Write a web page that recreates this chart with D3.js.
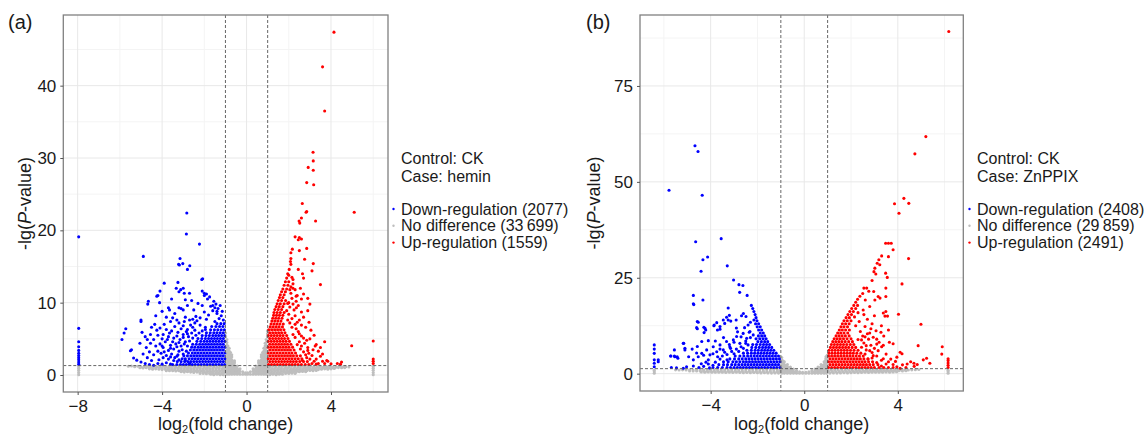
<!DOCTYPE html>
<html>
<head>
<meta charset="utf-8">
<script src="https://cdn.jsdelivr.net/npm/d3@7"></script>
<style>
  body { margin: 0; background: #fff; }
  svg text { font-family: "Liberation Sans", Arial, sans-serif; fill: #1a1a1a; }
</style>
</head>
<body>
<svg id="chart" width="1146" height="436"></svg>
<script>
// points are "log2FC,-lg(P)" pairs

// (a) CK vs hemin
const noA = `
-5.6,1.2 -5.45,1.25 -5.3,1.15 -5.15,1.2 -5.0,1.1 -4.85,1.15 -4.7,1.2 -4.55,1.1 -4.4,1.2 -4.25,1.15 -4.1,1.1 -3.95,1.2 -3.8,1.15
-3.65,1.1 -3.5,1.2 -3.35,1.15 -3.2,1.1 -3.05,1.2 -2.9,1.15 -2.75,1.1 -2.6,1.2 -2.45,1.15 -2.3,1.1 -2.15,1.2 -2.0,1.15 -1.85,1.1
-1.7,1.2 -1.55,1.15 -1.4,1.1 -1.25,1.2 -1.1,1.15
-5.05,1.0 -4.9,0.98 -4.75,1.0 -4.6,1.02 -4.45,1.0 -4.3,0.98 -4.15,1.0 -4.0,0.95 -3.85,0.98 -3.7,0.95 -3.55,0.98 -3.4,0.95
-3.25,0.92 -3.1,0.95 -2.95,0.92 -2.8,0.95 -2.65,0.9 -2.5,0.92 -2.35,0.9 -2.2,0.92 -2.05,0.9 -1.9,0.92 -1.75,0.9 -1.6,0.92
-1.45,0.9 -1.3,0.92 -1.15,0.9 -1.05,0.95
-4.6,0.85 -4.45,0.8 -4.3,0.85 -4.15,0.8 -4.0,0.75 -3.85,0.8 -3.7,0.75 -3.55,0.8 -3.4,0.75 -3.25,0.7 -3.1,0.75 -2.95,0.7 -2.8,0.75
-2.65,0.7 -2.5,0.75 -2.35,0.7 -2.2,0.75 -2.05,0.7 -1.9,0.75 -1.75,0.7 -1.6,0.75 -1.45,0.7 -1.3,0.75 -1.15,0.7 -1.02,0.75
-3.8,0.6 -3.65,0.58 -3.5,0.6 -3.35,0.55 -3.2,0.58 -3.05,0.55 -2.9,0.58 -2.75,0.55 -2.6,0.52 -2.45,0.55 -2.3,0.52 -2.15,0.55
-2.0,0.5 -1.85,0.52 -1.7,0.5 -1.55,0.52 -1.4,0.5 -1.25,0.52 -1.1,0.5
-3.1,0.45 -2.95,0.4 -2.8,0.45 -2.65,0.4 -2.5,0.35 -2.35,0.4 -2.2,0.35 -2.05,0.4 -1.9,0.35 -1.75,0.3 -1.6,0.35 -1.45,0.3 -1.3,0.35
-1.15,0.3 -1.02,0.35 -1.7,0.1 -1.55,0.05 -1.4,0.1 -1.25,0.05 -1.1,0.05
-2.2,0.2 -2.05,0.22 -1.9,0.18 -1.75,0.2 -1.6,0.18 -1.45,0.2 -1.3,0.18 -1.15,0.15
1.1,1.15 1.25,1.2 1.4,1.1 1.55,1.15 1.7,1.2 1.85,1.1 2.0,1.15 2.15,1.2 2.3,1.1 2.45,1.15 2.6,1.2 2.75,1.1 2.9,1.15 3.05,1.2
3.2,1.1 3.35,1.15 3.5,1.2 3.65,1.1 3.8,1.15 3.95,1.2 4.1,1.1 4.25,1.15 4.4,1.2 4.55,1.1 4.7,1.15 4.85,1.1
1.05,0.92 1.2,0.9 1.35,0.92 1.5,0.9 1.65,0.92 1.8,0.9 1.95,0.92 2.1,0.9 2.25,0.92 2.4,0.9 2.55,0.92 2.7,0.95 2.85,0.92
3.0,0.95 3.15,0.98 3.3,0.95 3.45,0.98 3.6,1.0 3.75,0.98 3.9,1.0 4.05,1.02 4.2,1.0 4.35,1.02 4.5,1.0 4.65,1.02
1.02,0.75 1.15,0.7 1.3,0.75 1.45,0.7 1.6,0.75 1.75,0.7 1.9,0.75 2.05,0.7 2.2,0.75 2.35,0.7 2.5,0.75 2.65,0.7 2.8,0.75 2.95,0.8
3.1,0.75 3.25,0.8 3.4,0.75 3.55,0.8 3.7,0.85 3.85,0.8 4.0,0.85 4.15,0.9
1.05,0.52 1.2,0.5 1.35,0.52 1.5,0.5 1.65,0.52 1.8,0.55 1.95,0.52 2.1,0.55 2.25,0.58 2.4,0.55 2.55,0.6 2.7,0.58 2.85,0.6
3.0,0.62 3.15,0.6 3.3,0.62
1.02,0.35 1.15,0.3 1.3,0.35 1.45,0.3 1.6,0.35 1.75,0.4 1.9,0.35 2.05,0.4 2.2,0.45 2.35,0.4 2.5,0.45 2.65,0.5 2.8,0.45
1.1,0.05 1.25,0.1 1.4,0.05 1.55,0.1 1.7,0.1 1.85,0.2 2.0,0.22 2.15,0.25 2.3,0.22 1.15,0.18 1.3,0.2 1.45,0.18 1.6,0.22
-0.05,0.1 -0.05,0.3 -0.18,0.1 -0.18,0.45 -0.31,0.1 -0.31,0.5 -0.31,0.85 -0.44,0.1 -0.44,0.5 -0.44,0.9 -0.44,1.25
-0.57,0.1 -0.57,0.5 -0.57,0.9 -0.57,1.3 -0.57,1.7 -0.57,1.95 -0.7,0.1 -0.7,0.5 -0.7,0.9 -0.7,1.3 -0.7,1.7 -0.7,2.1 -0.7,2.5 -0.7,2.8
-0.82,0.1 -0.82,0.5 -0.82,0.9 -0.82,1.3 -0.82,1.7 -0.82,2.1 -0.82,2.5 -0.82,2.9 -0.82,3.3 -0.82,3.7
-0.93,0.1 -0.93,0.5 -0.93,0.9 -0.93,1.3 -0.93,1.7 -0.93,2.1 -0.93,2.5 -0.93,2.9 -0.93,3.3 -0.93,3.7 -0.93,4.1 -0.93,4.5 -0.93,4.9
-0.99,5.3 -0.99,5.8
-0.88,0.3 -0.88,0.7 -0.88,1.1 -0.88,1.5 -0.88,1.9 -0.88,2.3 -0.88,2.7 -0.88,3.1 -0.88,3.5 -0.88,4.0
-0.76,0.3 -0.76,0.7 -0.76,1.1 -0.76,1.5 -0.76,1.9 -0.76,2.3 -0.76,2.7 -0.76,3.1 -0.63,0.3 -0.63,0.7 -0.63,1.1 -0.63,1.5
-0.63,1.9 -0.5,0.3 -0.5,0.7 -0.5,1.1 -0.37,0.3 -0.37,0.7
0.05,0.1 0.05,0.3 0.18,0.1 0.18,0.45 0.31,0.1 0.31,0.5 0.31,0.85 0.44,0.1 0.44,0.5 0.44,0.9 0.44,1.25
0.57,0.1 0.57,0.5 0.57,0.9 0.57,1.3 0.57,1.7 0.57,1.95 0.7,0.1 0.7,0.5 0.7,0.9 0.7,1.3 0.7,1.7 0.7,2.1 0.7,2.5 0.7,2.8
0.82,0.1 0.82,0.5 0.82,0.9 0.82,1.3 0.82,1.7 0.82,2.1 0.82,2.5 0.82,2.9 0.82,3.3 0.82,3.7
0.93,0.1 0.93,0.5 0.93,0.9 0.93,1.3 0.93,1.7 0.93,2.1 0.93,2.5 0.93,2.9 0.93,3.3 0.93,3.7 0.93,4.1 0.93,4.5 0.93,4.9
0.99,5.3 0.99,5.7 0.99,6.1
0.88,0.3 0.88,0.7 0.88,1.1 0.88,1.5 0.88,1.9 0.88,2.3 0.88,2.7 0.88,3.1 0.88,3.5 0.88,4.0 0.88,4.4
0.76,0.3 0.76,0.7 0.76,1.1 0.76,1.5 0.76,1.9 0.76,2.3 0.76,2.7 0.76,3.1 0.63,0.3 0.63,0.7 0.63,1.1 0.63,1.5
0.63,1.9 0.5,0.3 0.5,0.7 0.5,1.1 0.37,0.3 0.37,0.7
-7.95,0.05 -7.95,0.35 -7.95,0.65 -7.95,0.95 -7.95,1.2 6.0,0.05 6.0,0.35 6.0,0.65 6.0,0.95 6.0,1.2
`;

const downA = `
-7.95,19.1 -7.95,6.45 -7.95,4.6 -7.95,3.9 -7.95,3.4 -7.95,3.0 -7.95,2.7 -7.95,2.4 -7.95,2.1 -7.95,1.8 -7.95,1.5
-2.83,22.4 -2.85,19.5 -2.23,18.1 -4.89,16.4 -3.15,16.1 -3.22,15.3 -3.02,15.4 -3.18,15.2 -2.69,15.1 -2.8,14.6
-2.08,13.3 -2.12,13.2 -3.9,12.7 -3.25,12.8 -3.33,12.0 -3.12,11.8 -3.0,12.0 -3.2,11.5 -4.1,11.6 -2.7,11.3 -2.95,11.3
-2.1,11.6 -2.0,11.3 -1.9,11.2 -4.2,11.0 -4.12,10.0 -4.65,10.2 -4.68,9.8 -3.7,9.3 -3.2,9.3 -3.1,9.2
-2.0,11.0 -1.85,10.5 -1.6,9.6 -1.5,9.3 -1.4,8.8
-4.25,10.9 -3.55,10.5 -2.9,10.4 -4.3,8.2 -4.0,8.8 -3.8,8.0 -3.5,7.9 -3.65,9.0 -3.4,8.5 -3.0,9.0 -2.8,9.6
-5.72,6.4 -5.8,5.8 -5.9,4.9 -5.0,7.4 -5.0,7.6 -4.95,5.9 -4.8,5.3 -4.7,4.9 -5.05,4.4 -5.45,3.5 -5.5,3.35
-4.4,1.35 -4.6,1.45 -4.8,1.6 -5.0,1.8 -5.2,2.05 -5.35,2.35 -4.5,2.0 -4.7,2.4 -4.4,2.8 -4.6,3.2 -4.9,2.9
-4.3,4.0 -4.55,4.4 -4.75,3.8 -4.5,6.6 -4.35,7.0 -4.25,6.2 -4.55,5.6 -4.2,5.5 -4.4,4.9
-3.6,1.5 -3.8,1.7 -4.0,1.5 -4.2,1.6 -3.45,2.0 -3.7,2.2 -3.95,2.4 -4.15,2.1 -3.3,2.6 -3.55,2.9 -3.8,2.7 -4.05,3.0
-3.2,3.3 -3.45,3.6 -3.7,3.4 -3.95,3.8 -4.2,3.3 -3.1,4.0 -3.35,4.3 -3.6,4.1 -3.85,4.6 -2.9,4.6 -3.15,4.9 -3.45,5.1
-3.7,5.3 -4.0,5.0 -2.75,5.3 -3.0,5.6 -3.25,5.9 -3.55,6.1 -2.6,5.8 -2.85,6.0 -3.1,6.4 -3.4,6.7 -3.8,6.3 -4.1,6.5
-2.45,6.2 -2.65,6.9 -3.2,7.2 -3.6,7.4 -3.9,7.0 -2.35,7.5 -2.55,7.7 -2.95,7.4
-2.7,1.6 -2.9,2.0 -3.2,2.1 -3.4,2.4 -3.0,2.9 -3.25,2.8 -2.85,3.3 -3.05,3.5 -2.8,4.0 -2.95,4.3 -2.7,4.7 -2.55,5.1
-2.4,5.5 -2.25,5.8 -2.1,6.1 -1.95,6.3 -3.6,2.5 -3.9,3.2 -3.6,3.7 -3.3,3.9 -3.5,4.6 -3.2,4.5 -3.0,5.2 -3.3,5.4
-2.8,5.7 -3.65,5.8 -3.95,5.6 -4.1,4.3 -4.0,4.0 -3.75,4.9
-1.1,7.6 -1.3,7.8 -1.5,7.4 -1.2,8.2 -1.4,8.5 -1.15,8.8 -1.35,9.2 -1.6,8.9 -1.25,9.6 -1.45,9.8 -1.7,9.5 -1.55,10.2
-1.8,8.3 -2.0,8.7 -1.9,7.7 -2.2,7.9 -2.4,8.1 -2.1,9.6 -2.3,9.9 -2.5,9.0 -2.6,10.3 -1.75,10.8 -2.45,7.2 -2.7,7.6
-2.9,8.0 -2.55,6.6 -2.2,6.9 -1.95,6.6 -2.8,6.3 -3.0,6.8 -3.3,7.6
-1.04,1.45 -1.17,1.45 -1.31,1.45 -1.45,1.45 -1.59,1.45 -1.73,1.45 -1.87,1.45 -2.01,1.45 -2.15,1.45 -2.29,1.45 -2.43,1.45
-2.57,1.45 -2.71,1.45 -2.85,1.45 -2.99,1.45 -3.13,1.45 -3.3,1.45 -3.5,1.45
-1.1,1.85 -1.24,1.85 -1.38,1.85 -1.52,1.85 -1.66,1.85 -1.8,1.85 -1.94,1.85 -2.08,1.85 -2.22,1.85 -2.36,1.85 -2.5,1.85
-2.64,1.85 -2.78,1.85 -2.93,1.85 -3.1,1.85 -3.28,1.85
-1.03,2.25 -1.17,2.25 -1.31,2.25 -1.45,2.25 -1.59,2.25 -1.73,2.25 -1.87,2.25 -2.01,2.25 -2.15,2.25 -2.29,2.25 -2.43,2.25
-2.57,2.25 -2.72,2.25 -2.9,2.25 -3.05,2.25
-1.1,2.65 -1.24,2.65 -1.38,2.65 -1.52,2.65 -1.66,2.65 -1.8,2.65 -1.94,2.65 -2.08,2.65 -2.22,2.65 -2.36,2.65 -2.5,2.65
-2.64,2.65 -2.8,2.65 -2.97,2.65
-1.03,3.05 -1.17,3.05 -1.31,3.05 -1.45,3.05 -1.59,3.05 -1.73,3.05 -1.87,3.05 -2.01,3.05 -2.15,3.05 -2.29,3.05 -2.43,3.05
-2.57,3.05 -2.75,3.05
-1.1,3.45 -1.24,3.45 -1.38,3.45 -1.52,3.45 -1.66,3.45 -1.8,3.45 -1.94,3.45 -2.08,3.45 -2.22,3.45 -2.36,3.45 -2.5,3.45 -2.66,3.45
-1.03,3.85 -1.17,3.85 -1.31,3.85 -1.45,3.85 -1.59,3.85 -1.73,3.85 -1.87,3.85 -2.01,3.85 -2.15,3.85 -2.29,3.85 -2.45,3.85 -2.6,3.85
-1.1,4.25 -1.24,4.25 -1.38,4.25 -1.52,4.25 -1.66,4.25 -1.8,4.25 -1.94,4.25 -2.08,4.25 -2.22,4.25 -2.38,4.25 -2.55,4.25
-1.03,4.65 -1.17,4.65 -1.31,4.65 -1.45,4.65 -1.59,4.65 -1.73,4.65 -1.87,4.65 -2.01,4.65 -2.17,4.65 -2.35,4.65
-1.1,5.05 -1.24,5.05 -1.38,5.05 -1.52,5.05 -1.66,5.05 -1.8,5.05 -1.95,5.05 -2.12,5.05 -2.3,5.05
-1.04,5.45 -1.18,5.45 -1.32,5.45 -1.46,5.45 -1.6,5.45 -1.76,5.45 -1.92,5.45 -2.1,5.45
-1.1,5.85 -1.25,5.85 -1.4,5.85 -1.55,5.85 -1.72,5.85 -1.9,5.85
-1.05,6.25 -1.2,6.25 -1.36,6.25 -1.52,6.25 -1.7,6.25
-1.12,6.7 -1.28,6.7 -1.45,6.7 -1.65,6.7
-1.06,7.1 -1.22,7.1 -1.4,7.1
`;

const upA = `
4.14,47.4 3.6,42.6 3.7,36.5 3.15,30.8 3.16,29.6 2.92,28.7 3.16,28.3 2.85,26.6 3.18,26.3 2.64,23.7 2.85,22.6 2.82,22.5
5.1,22.5 2.6,21.7 2.49,21.3 2.52,21.0 3.27,21.3 2.3,19.1 2.5,19.0 2.6,18.8 2.45,18.7 2.17,17.4 2.5,17.2 2.85,17.5
2.1,16.9 2.1,16.1 2.75,16.0 2.08,15.7 2.1,15.3 3.16,15.4 2.45,14.6 3.1,14.4 2.0,13.8 2.15,13.5 2.2,13.2 2.65,14.0
2.7,13.4 3.5,12.5
2.36,9.3 2.6,8.7 2.9,8.9 2.7,8.0 2.96,7.3 2.5,7.6 2.3,7.0 2.8,6.6 3.05,6.2 2.45,6.0 2.6,5.4 3.0,5.0 3.3,4.2 3.25,4.0
2.5,4.6 2.75,4.4 2.9,3.8 2.95,3.0 3.1,2.7 3.5,2.6 3.3,2.2 3.6,1.9 3.8,2.0 3.85,1.9 4.0,1.55 4.3,1.6 4.5,1.8 4.45,1.5
3.1,1.6 3.3,1.5 2.85,2.4 2.7,3.2 2.55,3.6 3.15,3.5 2.35,10.2 2.4,11.0 2.2,12.0 2.6,10.5 2.9,10.6 2.55,12.0 2.7,11.2
3.0,9.8 2.2,9.8 2.0,10.0 2.1,11.3 4.98,4.05 6.0,4.7 6.0,2.2 6.0,1.9 6.0,1.6
2.2,12.6 2.3,11.8 2.35,10.9 2.15,10.6 2.45,9.6 2.25,9.0 2.05,9.4 2.0,8.4 2.15,7.8 2.3,8.2 2.05,7.2 1.95,7.6 1.9,8.9
1.95,9.9 2.05,11.8 2.1,12.2
2.65,2.0 2.8,2.8 3.0,2.2 3.2,1.9 2.9,3.4 2.6,4.0 2.4,4.2 2.3,5.2 2.5,5.7 2.7,5.1 2.85,4.8 2.2,5.6 2.35,6.4 2.6,6.9
2.15,6.6 2.4,7.3 3.4,3.3 3.6,2.9 3.5,3.8 3.7,4.6 3.2,5.5 3.4,1.6 3.7,1.6
1.04,1.45 1.18,1.45 1.32,1.45 1.46,1.45 1.6,1.45 1.74,1.45 1.88,1.45 2.02,1.45 2.16,1.45 2.3,1.45 2.44,1.45 2.6,1.45
2.78,1.45 2.95,1.45
1.1,1.85 1.24,1.85 1.38,1.85 1.52,1.85 1.66,1.85 1.8,1.85 1.94,1.85 2.08,1.85 2.22,1.85 2.36,1.85 2.52,1.85 2.7,1.85 2.88,1.85
1.03,2.25 1.17,2.25 1.31,2.25 1.45,2.25 1.59,2.25 1.73,2.25 1.87,2.25 2.01,2.25 2.15,2.25 2.3,2.25 2.45,2.25 2.62,2.25
1.1,2.65 1.24,2.65 1.38,2.65 1.52,2.65 1.66,2.65 1.8,2.65 1.94,2.65 2.08,2.65 2.22,2.65 2.38,2.65 2.55,2.65
1.03,3.05 1.17,3.05 1.31,3.05 1.45,3.05 1.59,3.05 1.73,3.05 1.87,3.05 2.01,3.05 2.15,3.05 2.32,3.05
1.1,3.45 1.24,3.45 1.38,3.45 1.52,3.45 1.66,3.45 1.8,3.45 1.94,3.45 2.08,3.45 2.25,3.45
1.03,3.85 1.17,3.85 1.31,3.85 1.45,3.85 1.59,3.85 1.73,3.85 1.87,3.85 2.01,3.85 2.18,3.85
1.1,4.25 1.24,4.25 1.38,4.25 1.52,4.25 1.66,4.25 1.8,4.25 1.94,4.25 2.1,4.25
1.03,4.65 1.17,4.65 1.31,4.65 1.45,4.65 1.59,4.65 1.73,4.65 1.87,4.65 2.03,4.65
1.1,5.05 1.24,5.05 1.38,5.05 1.52,5.05 1.66,5.05 1.8,5.05 1.96,5.05
1.03,5.45 1.17,5.45 1.31,5.45 1.45,5.45 1.59,5.45 1.73,5.45 1.9,5.45
1.1,5.85 1.24,5.85 1.38,5.85 1.52,5.85 1.66,5.85 1.82,5.85
1.05,6.25 1.19,6.25 1.33,6.25 1.47,6.25 1.61,6.25 1.77,6.25
1.12,6.65 1.26,6.65 1.4,6.65 1.54,6.65 1.7,6.65
1.16,7.05 1.3,7.05 1.44,7.05 1.58,7.05 1.74,7.05
1.2,7.45 1.34,7.45 1.48,7.45 1.63,7.45 1.24,7.85 1.38,7.85 1.52,7.85 1.68,7.85
1.28,8.25 1.42,8.25 1.56,8.25 1.72,8.25 1.3,8.65 1.45,8.65 1.6,8.65 1.78,8.65
1.34,9.05 1.5,9.05 1.66,9.05 1.4,9.45 1.55,9.45 1.72,9.45 1.45,9.85 1.6,9.85 1.78,9.85 1.5,10.3 1.66,10.3 1.85,10.3
1.56,10.7 1.72,10.7 1.6,11.1 1.78,11.1 1.66,11.5 1.84,11.5 1.72,11.9 1.9,11.9 1.78,12.4 1.96,12.4 1.84,12.9 2.0,12.9
1.9,13.4 1.95,14.0 2.02,14.6
`;

// (b) CK vs ZnPPIX
const noB = `
-5.5,1.0 -5.35,0.95 -5.2,1.0 -5.05,0.95 -4.9,1.0 -4.75,0.95 -4.6,1.0 -4.45,0.95 -4.3,1.0 -4.15,0.95 -4.0,1.0 -3.85,0.95
-3.7,1.0 -3.55,0.95 -3.4,1.0 -3.25,0.95 -3.1,1.0 -2.95,0.95 -2.8,1.0 -2.65,0.95 -2.5,1.0 -2.35,0.95 -2.2,1.0 -2.05,0.95
-1.9,1.0 -1.75,0.95 -1.6,1.0 -1.45,0.95 -1.3,1.0 -1.15,0.95 -1.02,1.0
-4.9,0.7 -4.75,0.68 -4.6,0.7 -4.45,0.68 -4.3,0.7 -4.15,0.65 -4.0,0.68 -3.85,0.65 -3.7,0.68 -3.55,0.65 -3.4,0.62 -3.25,0.65
-3.1,0.62 -2.95,0.6 -2.8,0.62 -2.65,0.6 -2.5,0.58 -2.35,0.6 -2.2,0.58 -2.05,0.55 -1.9,0.58 -1.75,0.55 -1.6,0.52 -1.45,0.55
-1.3,0.52 -1.15,0.5 -1.05,0.55
-4.4,0.45 -4.25,0.4 -4.1,0.45 -3.95,0.4 -3.8,0.35 -3.65,0.4 -3.5,0.35 -3.35,0.3 -3.2,0.35 -3.05,0.3 -2.9,0.35 -2.75,0.3
-2.6,0.25 -2.45,0.3 -2.3,0.25 -2.15,0.3 -2.0,0.25 -1.85,0.2 -1.7,0.25 -1.55,0.2 -1.4,0.15 -1.25,0.2 -1.1,0.15
1.02,1.0 1.15,0.95 1.3,1.0 1.45,0.95 1.6,1.0 1.75,0.95 1.9,1.0 2.05,0.95 2.2,1.0 2.35,0.95 2.5,1.0 2.65,0.95 2.8,1.0
2.95,0.95 3.1,1.0 3.25,0.95 3.4,1.0 3.55,0.95 3.7,1.0 3.85,0.95 4.0,1.0 4.15,0.95 4.3,1.0 4.45,0.95 4.6,1.0 4.75,1.05 4.9,1.1
1.05,0.55 1.2,0.52 1.35,0.55 1.5,0.52 1.65,0.55 1.8,0.58 1.95,0.55 2.1,0.58 2.25,0.6 2.4,0.58 2.55,0.62 2.7,0.65
2.85,0.62 3.0,0.65 3.15,0.68 3.3,0.65 3.45,0.7 3.6,0.68 3.75,0.7 3.9,0.72 4.05,0.75 4.2,0.72 4.35,0.75
1.1,0.15 1.25,0.2 1.4,0.15 1.55,0.2 1.7,0.25 1.85,0.2 2.0,0.25 2.15,0.3 2.3,0.25 2.45,0.3 2.6,0.35 2.75,0.3 2.9,0.35
3.05,0.4 3.2,0.35 3.35,0.4 3.5,0.45 3.65,0.4 3.8,0.45 3.95,0.5
-0.07,0.1 -0.07,0.35 -0.2,0.1 -0.2,0.5 -0.33,0.1 -0.33,0.5 -0.33,0.8 -0.46,0.1 -0.46,0.6 -0.46,1.2 -0.59,0.1 -0.59,0.6
-0.59,1.2 -0.59,1.7 -0.72,0.1 -0.72,0.6 -0.72,1.2 -0.72,1.8 -0.72,2.4 -0.85,0.1 -0.85,0.6 -0.85,1.2 -0.85,1.8 -0.85,2.4
-0.85,3.1 -0.96,0.1 -0.96,0.6 -0.96,1.2 -0.96,1.8 -0.96,2.4 -0.96,3.0 -0.96,3.6 -0.96,4.2
-0.9,0.35 -0.9,0.9 -0.9,1.5 -0.9,2.1 -0.9,2.7 -0.9,3.3 -0.78,0.35 -0.78,0.9 -0.78,1.5 -0.78,2.1 -0.65,0.35 -0.65,0.9
-0.65,1.5 -0.52,0.35 -0.52,0.9 -0.39,0.35
0.07,0.1 0.07,0.35 0.2,0.1 0.2,0.5 0.33,0.1 0.33,0.5 0.33,0.8 0.46,0.1 0.46,0.6 0.46,1.2 0.59,0.1 0.59,0.6
0.59,1.2 0.59,1.7 0.72,0.1 0.72,0.6 0.72,1.2 0.72,1.8 0.72,2.4 0.85,0.1 0.85,0.6 0.85,1.2 0.85,1.8 0.85,2.4
0.85,3.1 0.96,0.1 0.96,0.6 0.96,1.2 0.96,1.8 0.96,2.4 0.96,3.0 0.96,3.6 0.96,4.2 0.98,4.8
0.39,0.35 0.52,0.35 0.52,0.9 0.65,0.35 0.65,0.9 0.65,1.5 0.78,0.35 0.78,0.9 0.78,1.5 0.78,2.1 0.9,0.35 0.9,0.9
0.9,1.5 0.9,2.1 0.9,2.7 0.9,3.3 0.92,3.9 0.93,4.4
-6.41,0.1 -6.41,0.5 -6.41,0.9 6.15,0.1 6.15,0.5 6.15,0.9
`;

const downB = `
-4.67,59.4 -4.54,57.9 -5.78,47.8 -4.36,46.5 -4.64,34.4 -3.55,35.2 -4.33,29.7 -4.13,30.4 -4.41,26.7 -3.29,28.1
-3.02,24.4 -2.79,23.2 -2.62,23.0 -2.76,21.2 -2.44,20.4 -4.74,20.4 -4.74,18.2 -4.72,18.0 -4.33,19.2 -3.25,17.1
-4.53,13.4 -4.57,11.7 -4.24,11.8 -4.28,10.7 -4.1,8.6 -4.38,8.4 -4.57,7.1 -4.79,6.4 -5.1,6.2 -5.15,7.9 -5.55,6.2
-5.7,4.6 -5.55,4.6 -5.4,4.0 -4.94,4.4 -3.86,12.5 -3.71,11.4 -3.6,11.6 -3.4,13.1 -3.25,14.0 -3.14,13.7 -2.91,14.0
-2.68,15.1 -2.6,15.7 -2.49,14.9 -2.4,12.7 -2.3,13.4 -2.15,14.0
-3.85,12.7 -3.74,13.3 -3.6,12.3 -3.46,14.0 -3.32,14.7 -3.2,15.2 -4.57,13.6 -4.6,12.0 -4.29,12.1 -4.21,11.4
-5.17,7.9 -5.1,6.6 -5.43,4.4 -5.53,4.4 -5.71,4.6
-6.41,7.5 -6.41,6.4 -6.41,5.3 -6.41,3.6 -6.41,2.7 -6.41,1.8 -6.24,3.1 -6.24,3.6
-5.17,1.4 -4.74,2.0 -5.03,1.8 -5.46,1.5 -5.68,1.6
-4.74,3.6 -4.53,4.4 -4.38,5.3 -4.17,6.2 -4.03,4.9 -3.89,7.0 -3.74,5.7 -3.6,7.5 -3.46,6.2 -3.32,8.4 -3.18,7.0
-3.03,8.8 -2.89,9.7 -2.75,7.9 -2.61,10.5 -2.46,9.2 -2.32,11.0 -2.18,10.1
-2.5,8.5 -2.7,9.6 -2.35,10.8 -2.55,12.0 -2.4,7.5 -2.7,7.0 -2.9,6.4 -3.1,5.8 -3.3,5.0 -3.5,4.6 -3.6,3.8 -3.8,3.0
-4.1,2.5 -4.3,1.9 -4.05,1.5 -3.2,7.6 -3.0,8.2 -2.85,10.9 -2.3,9.4
-3.9,2.2 -4.2,3.0 -4.4,2.6 -3.7,4.4 -3.9,5.2 -4.1,3.6 -3.4,5.6 -3.6,6.4 -3.15,6.6 -3.3,3.6 -3.0,5.2 -2.8,5.8
-2.6,6.6 -2.5,7.9 -4.5,1.6 -4.3,4.8 -4.6,5.4 -3.45,9.4 -3.8,8.5 -2.9,11.9
-1.04,1.6 -1.17,1.6 -1.3,1.6 -1.43,1.6 -1.56,1.6 -1.69,1.6 -1.82,1.6 -1.95,1.6 -2.08,1.6 -2.21,1.6 -2.34,1.6 -2.47,1.6
-2.6,1.6 -2.73,1.6 -2.86,1.6 -3.0,1.6 -3.15,1.6 -3.3,1.6 -3.5,1.6 -3.7,1.6 -3.9,1.6
-1.1,2.35 -1.23,2.35 -1.36,2.35 -1.49,2.35 -1.62,2.35 -1.75,2.35 -1.88,2.35 -2.01,2.35 -2.14,2.35 -2.27,2.35 -2.4,2.35
-2.53,2.35 -2.66,2.35 -2.8,2.35 -2.95,2.35 -3.1,2.35 -3.28,2.35 -3.45,2.35 -3.65,2.35
-1.04,3.1 -1.17,3.1 -1.3,3.1 -1.43,3.1 -1.56,3.1 -1.69,3.1 -1.82,3.1 -1.95,3.1 -2.08,3.1 -2.21,3.1 -2.34,3.1 -2.47,3.1
-2.6,3.1 -2.75,3.1 -2.9,3.1 -3.05,3.1 -3.25,3.1 -3.45,3.1
-1.06,3.85 -1.19,3.85 -1.32,3.85 -1.45,3.85 -1.58,3.85 -1.71,3.85 -1.84,3.85 -1.97,3.85 -2.1,3.85 -2.23,3.85 -2.36,3.85
-2.5,3.85 -2.65,3.85 -2.8,3.85 -2.98,3.85 -3.18,3.85
-1.1,4.6 -1.23,4.6 -1.36,4.6 -1.49,4.6 -1.62,4.6 -1.75,4.6 -1.88,4.6 -2.01,4.6 -2.14,4.6 -2.28,4.6 -2.42,4.6 -2.58,4.6
-2.75,4.6 -2.95,4.6
-1.2,5.35 -1.33,5.35 -1.46,5.35 -1.59,5.35 -1.72,5.35 -1.85,5.35 -1.98,5.35 -2.12,5.35 -2.26,5.35 -2.42,5.35 -2.6,5.35
-1.3,6.1 -1.43,6.1 -1.56,6.1 -1.69,6.1 -1.82,6.1 -1.96,6.1 -2.1,6.1 -2.26,6.1 -2.45,6.1
-1.39,6.85 -1.52,6.85 -1.65,6.85 -1.78,6.85 -1.92,6.85 -2.07,6.85 -2.24,6.85
-1.48,7.6 -1.61,7.6 -1.74,7.6 -1.88,7.6 -2.04,7.6 -2.2,7.6
-1.56,8.35 -1.69,8.35 -1.83,8.35 -1.98,8.35 -1.63,9.1 -1.76,9.1 -1.9,9.1 -2.06,9.1
-1.69,9.85 -1.82,9.85 -1.96,9.85 -1.75,10.6 -1.88,10.6 -1.82,11.4 -1.95,11.4 -1.88,12.2 -2.01,12.2
-1.95,13.0 -2.08,13.0 -2.02,13.8 -2.06,14.6 -2.1,15.4 -2.15,16.2 -2.2,17.0 -2.26,17.8
`;

const upB = `
6.18,89.2 5.2,61.8 4.73,57.3 4.26,45.7 3.86,44.3 4.47,44.4 4.05,41.8
3.48,34.0 3.6,34.0 3.72,34.0 3.8,32.3 3.31,30.7 3.6,30.5 4.46,30.0
3.19,29.7 3.12,28.8 3.23,28.4 3.02,27.5 2.98,26.6 3.06,26.0 2.9,24.3 3.48,26.2 3.55,25.1 4.18,23.4
2.55,22.3 2.67,22.3 2.76,21.5 2.5,20.9 2.97,21.4 3.16,20.1 3.24,19.7 3.49,20.1 3.49,22.3 2.61,19.2
4.03,15.5 4.99,12.9 4.87,7.3 5.9,7.0 5.88,5.1
6.15,1.6 6.15,2.2 6.15,2.8 6.15,3.4 6.15,3.9
5.37,2.7 5.09,3.6 4.69,2.7 5.23,4.0
2.52,16.6 2.8,17.5 3.02,19.2 3.38,15.8 3.49,16.2 3.56,15.0 3.45,15.0
2.85,11.7 3.07,11.2 3.28,10.8 3.64,8.2 3.8,7.8 3.38,7.4 3.31,7.0 4.1,5.6 4.18,5.2 3.96,4.3
4.55,3.1 4.4,2.5 4.83,2.4 4.7,1.9 3.38,3.9 3.6,3.1 3.8,2.4 3.96,1.8 4.1,1.4
2.95,9.5 3.1,7.7 3.16,6.0 2.95,4.7 2.73,3.8
2.2,12.5 2.4,11.0 2.35,13.6 2.5,9.8 2.6,12.3 2.7,10.4 2.3,8.9 2.55,8.0 2.75,9.0 2.85,7.4 2.45,6.9 2.65,6.2
2.9,5.5 2.55,15.4 2.3,15.9 2.7,14.2 2.9,13.0 3.0,15.1 2.15,14.8
3.3,2.0 3.5,2.5 3.1,2.9 3.3,3.5 2.9,4.1 3.1,4.6 2.6,5.1 2.8,6.0 3.0,6.6 2.65,7.3 3.2,8.2 3.5,5.1 3.7,3.8 3.9,3.2
4.2,2.3 4.35,1.6 3.6,1.6 3.8,1.6 2.45,8.8 2.6,9.6 2.8,10.6 3.1,9.0 3.4,9.8 3.6,11.4 3.3,12.5
1.04,1.6 1.17,1.6 1.3,1.6 1.43,1.6 1.56,1.6 1.69,1.6 1.82,1.6 1.95,1.6 2.08,1.6 2.21,1.6 2.34,1.6 2.47,1.6
2.6,1.6 2.73,1.6 2.86,1.6 3.0,1.6 3.2,1.6 3.4,1.6
1.1,2.35 1.23,2.35 1.36,2.35 1.49,2.35 1.62,2.35 1.75,2.35 1.88,2.35 2.01,2.35 2.14,2.35 2.27,2.35 2.4,2.35
2.53,2.35 2.66,2.35 2.8,2.35 2.95,2.35 3.15,2.35
1.04,3.1 1.17,3.1 1.3,3.1 1.43,3.1 1.56,3.1 1.69,3.1 1.82,3.1 1.95,3.1 2.08,3.1 2.21,3.1 2.34,3.1 2.47,3.1
2.6,3.1 2.75,3.1 2.92,3.1
1.1,3.85 1.23,3.85 1.36,3.85 1.49,3.85 1.62,3.85 1.75,3.85 1.88,3.85 2.01,3.85 2.14,3.85 2.27,3.85 2.4,3.85
2.55,3.85 2.72,3.85
1.04,4.6 1.17,4.6 1.3,4.6 1.43,4.6 1.56,4.6 1.69,4.6 1.82,4.6 1.95,4.6 2.08,4.6 2.22,4.6 2.36,4.6 2.52,4.6
1.06,5.35 1.19,5.35 1.32,5.35 1.45,5.35 1.58,5.35 1.71,5.35 1.84,5.35 1.97,5.35 2.1,5.35 2.25,5.35 2.42,5.35
1.06,6.1 1.19,6.1 1.32,6.1 1.45,6.1 1.58,6.1 1.71,6.1 1.84,6.1 1.98,6.1 2.13,6.1 2.3,6.1
1.12,6.85 1.25,6.85 1.38,6.85 1.51,6.85 1.64,6.85 1.77,6.85 1.9,6.85 2.05,6.85 2.2,6.85
1.16,7.6 1.29,7.6 1.42,7.6 1.55,7.6 1.68,7.6 1.82,7.6 1.97,7.6 2.12,7.6
1.22,8.35 1.35,8.35 1.48,8.35 1.61,8.35 1.75,8.35 1.9,8.35 2.06,8.35
1.28,9.1 1.41,9.1 1.54,9.1 1.68,9.1 1.83,9.1 2.0,9.1
1.36,9.85 1.49,9.85 1.62,9.85 1.76,9.85 1.92,9.85 1.43,10.6 1.56,10.6 1.7,10.6 1.86,10.6
1.5,11.4 1.63,11.4 1.77,11.4 1.93,11.4 1.57,12.2 1.7,12.2 1.85,12.2 1.63,13.0 1.77,13.0 1.92,13.0
1.7,13.8 1.84,13.8 2.0,13.8 1.79,14.6 1.93,14.6 1.87,15.4 2.02,15.4 1.95,16.2 2.1,16.2 2.03,17.0 2.2,17.0
2.12,17.8 2.28,17.8 2.2,18.6 2.28,19.4 2.38,20.2
`;

const groupNames = ["Down-regulation", "No difference", "Up-regulation"];
const countsA = ["2077", "33\u2009699", "1559"];
const countsB = ["2408", "29\u2009859", "2491"];
const colors = { down: "#0000ff", no: "#bebebe", up: "#ff0000" };

const parsePts = s => s.trim().split(/\s+/).map(p => p.split(",").map(Number));

const panels = [
    {
        tag: "(a)", tagX: 8, caseName: "hemin", counts: countsA,
        left: 63.3, right: 388, top: 15, bottom: 392,
        xDomain: [-8.68, 6.7], yDomain: [-2.35, 49.77],
        xTicks: [-8, -4, 0, 4], xMinor: [-6, -2, 2, 6],
        yTicks: [0, 10, 20, 30, 40], yMinor: [5, 15, 25, 35, 45],
        yTitleX: 31, legendX: 401,
        no: parsePts(noA), down: parsePts(downA), up: parsePts(upA)
    },
    {
        tag: "(b)", tagX: 586, caseName: "ZnPPIX", counts: countsB,
        left: 640, right: 963.3, top: 15, bottom: 391,
        xDomain: [-7.02, 6.8], yDomain: [-4.52, 93.5],
        xTicks: [-4, 0, 4], xMinor: [-6, -2, 2, 6],
        yTicks: [0, 25, 50, 75], yMinor: [12.5, 37.5, 62.5, 87.5],
        yTitleX: 600, legendX: 977,
        no: parsePts(noB), down: parsePts(downB), up: parsePts(upB)
    }
];

const svg = d3.select("#chart");

function drawPanel(p) {
    const x = d3.scaleLinear().domain(p.xDomain).range([p.left, p.right]);
    const y = d3.scaleLinear().domain(p.yDomain).range([p.bottom, p.top]);
    const g = svg.append("g");

    // grid, minor then major
    const gridV = (vals, color) => g.append("g").selectAll("line").data(vals).join("line")
        .attr("x1", d => x(d)).attr("x2", d => x(d))
        .attr("y1", p.top).attr("y2", p.bottom)
        .attr("stroke", color).attr("stroke-width", 1);
    const gridH = (vals, color) => g.append("g").selectAll("line").data(vals).join("line")
        .attr("x1", p.left).attr("x2", p.right)
        .attr("y1", d => y(d)).attr("y2", d => y(d))
        .attr("stroke", color).attr("stroke-width", 1);
    gridV(p.xMinor, "#f4f4f4");
    gridH(p.yMinor, "#f4f4f4");
    gridV(p.xTicks, "#e8e8e8");
    gridH(p.yTicks, "#e8e8e8");

    // points: gray first, then blue and red on top
    [["no", colors.no], ["down", colors.down], ["up", colors.up]].forEach(([key, color]) => {
        g.append("g").selectAll("circle").data(p[key]).join("circle")
            .attr("cx", d => x(d[0]))
            .attr("cy", d => y(d[1]))
            .attr("r", 1.55)
            .attr("fill", color);
    });

    // thresholds: |log2FC| = 1, P = 0.05
    const dash = { stroke: "#555", "stroke-width": 0.9, "stroke-dasharray": "3,2" };
    [-1, 1].forEach(v => {
        const l = g.append("line")
            .attr("x1", x(v)).attr("x2", x(v)).attr("y1", p.top).attr("y2", p.bottom);
        Object.entries(dash).forEach(([k, val]) => l.attr(k, val));
    });
    const h = g.append("line")
        .attr("x1", p.left).attr("x2", p.right)
        .attr("y1", y(-Math.log10(0.05))).attr("y2", y(-Math.log10(0.05)));
    Object.entries(dash).forEach(([k, val]) => h.attr(k, val));

    // frame
    g.append("rect")
        .attr("x", p.left).attr("y", p.top)
        .attr("width", p.right - p.left).attr("height", p.bottom - p.top)
        .attr("fill", "none").attr("stroke", "#808080").attr("stroke-width", 1.3);

    // axes
    const xAxis = g.append("g")
        .attr("transform", "translate(0," + p.bottom + ")")
        .call(d3.axisBottom(x).tickValues(p.xTicks).tickSize(3).tickPadding(5));
    const yAxis = g.append("g")
        .attr("transform", "translate(" + p.left + ",0)")
        .call(d3.axisLeft(y).tickValues(p.yTicks).tickSize(3).tickPadding(4));
    [xAxis, yAxis].forEach(a => {
        a.select(".domain").remove();
        a.selectAll(".tick line").attr("stroke", "#555");
        a.selectAll(".tick text")
            .attr("fill", "#1a1a1a")
            .style("font-size", "17px")
            .style("font-family", '"Liberation Sans", Arial, sans-serif');
    });

    // axis titles
    const xt = g.append("text")
        .attr("x", (p.left + p.right) / 2).attr("y", 430)
        .attr("text-anchor", "middle").style("font-size", "18px");
    xt.append("tspan").text("log");
    xt.append("tspan").text("2").attr("dy", 3).style("font-size", "11px");
    xt.append("tspan").text("(fold change)").attr("dy", -3);

    const yt = g.append("text")
        .attr("transform", "translate(" + p.yTitleX + "," + ((p.top + p.bottom) / 2) + ") rotate(-90)")
        .attr("text-anchor", "middle").style("font-size", "18px");
    yt.append("tspan").text("-lg(");
    yt.append("tspan").text("P").style("font-style", "italic");
    yt.append("tspan").text("-value)");

    // panel tag
    g.append("text").attr("x", p.tagX).attr("y", 29)
        .style("font-size", "20px").text(p.tag);

    // legend
    const lx = p.legendX;
    g.append("text").attr("x", lx).attr("y", 158).attr("dy", "0.35em")
        .style("font-size", "16px").text("Control: CK");
    g.append("text").attr("x", lx).attr("y", 176.5).attr("dy", "0.35em")
        .style("font-size", "16px").text("Case: " + p.caseName);
    const keys = [colors.down, colors.no, colors.up];
    groupNames.forEach((name, i) => {
        const ly = 209 + i * 16.8;
        g.append("circle").attr("cx", lx - 7.5).attr("cy", ly).attr("r", 1.2).attr("fill", keys[i]);
        g.append("text").attr("x", lx).attr("y", ly).attr("dy", "0.35em")
            .style("font-size", "16px").text(name + " (" + p.counts[i] + ")");
    });
}

panels.forEach(drawPanel);
</script>
</body>
</html>
